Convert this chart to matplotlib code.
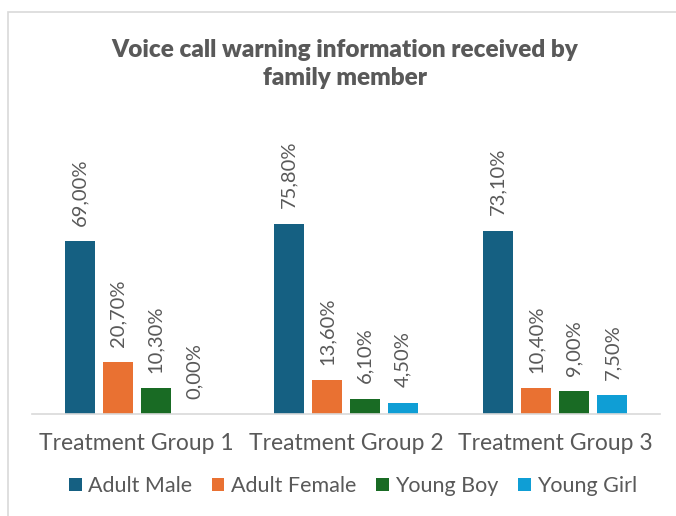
import matplotlib
matplotlib.use("Agg")
import matplotlib.pyplot as plt
from matplotlib.patches import Rectangle
import numpy as np

# ── Data ──────────────────────────────────────────────────────────────────────
groups = ["Treatment Group 1", "Treatment Group 2", "Treatment Group 3"]
series = ["Adult Male", "Adult Female", "Young Boy", "Young Girl"]
adult_male = [69.0, 75.8, 73.1]
adult_female = [20.7, 13.6, 10.4]
young_boy = [10.3, 6.1, 9.0]
young_girl = [0.0, 4.5, 7.5]
colors = ["#156082", "#E97132", "#196B24", "#0F9ED5"]

TEXT = "#595959"
plt.rcParams["font.family"] = ["Lato", "DejaVu Sans"]

W, H = 676, 516
fig = plt.figure(figsize=(W / 100, H / 100), dpi=100)

# chart frame
fig.patches.append(Rectangle((8 / W, -0.05), 1.0, (H - 12) / H + 0.05,
                             transform=fig.transFigure, fill=False,
                             edgecolor="#D9D9D9", linewidth=1.2))

ax = fig.add_axes([32 / W, (H - 414) / H, 628 / W, 251 / H])
ax.set_xlim(-0.5, 2.5)
ax.set_ylim(0, 100)

x = np.arange(len(groups))
width = 30 / 209
step = 38 / 209
values = [adult_male, adult_female, young_boy, young_girl]
for i, (name, vals, c) in enumerate(zip(series, values, colors)):
    pos = x + (i - 1.5) * step
    bars = ax.bar(pos, vals, width, color=c, label=name)
    for b, v in zip(bars, vals):
        ax.annotate(f"{v:.2f}%".replace(".", ","),
                    (b.get_x() + b.get_width() / 2, b.get_height()),
                    xytext=(0, 11), textcoords="offset points",
                    rotation=90, ha="center", va="bottom",
                    fontsize=14.5, color=TEXT)

ax.set_xticks(x)
ax.set_xticklabels(groups, fontsize=16.5, color=TEXT)
ax.tick_params(axis="x", length=0, pad=14)
ax.set_yticks([])
for s in ["top", "right", "left"]:
    ax.spines[s].set_visible(False)
ax.spines["bottom"].set_color("#D9D9D9")
ax.spines["bottom"].set_linewidth(1.2)
ax.set_facecolor("none")

fig.text(345 / W, 1 - 64 / H, "Voice call warning information received by\nfamily member",
         ha="center", va="center", fontsize=17.5, fontweight="heavy",
         color=TEXT, linespacing=1.3)

fig.legend(loc="center", bbox_to_anchor=(353 / W, 1 - 486 / H), ncol=4,
           frameon=False, fontsize=15.5, labelcolor=TEXT,
           handlelength=0.6, handleheight=0.6, handletextpad=0.3,
           columnspacing=0.9)

fig.savefig("out.png", dpi=100)
